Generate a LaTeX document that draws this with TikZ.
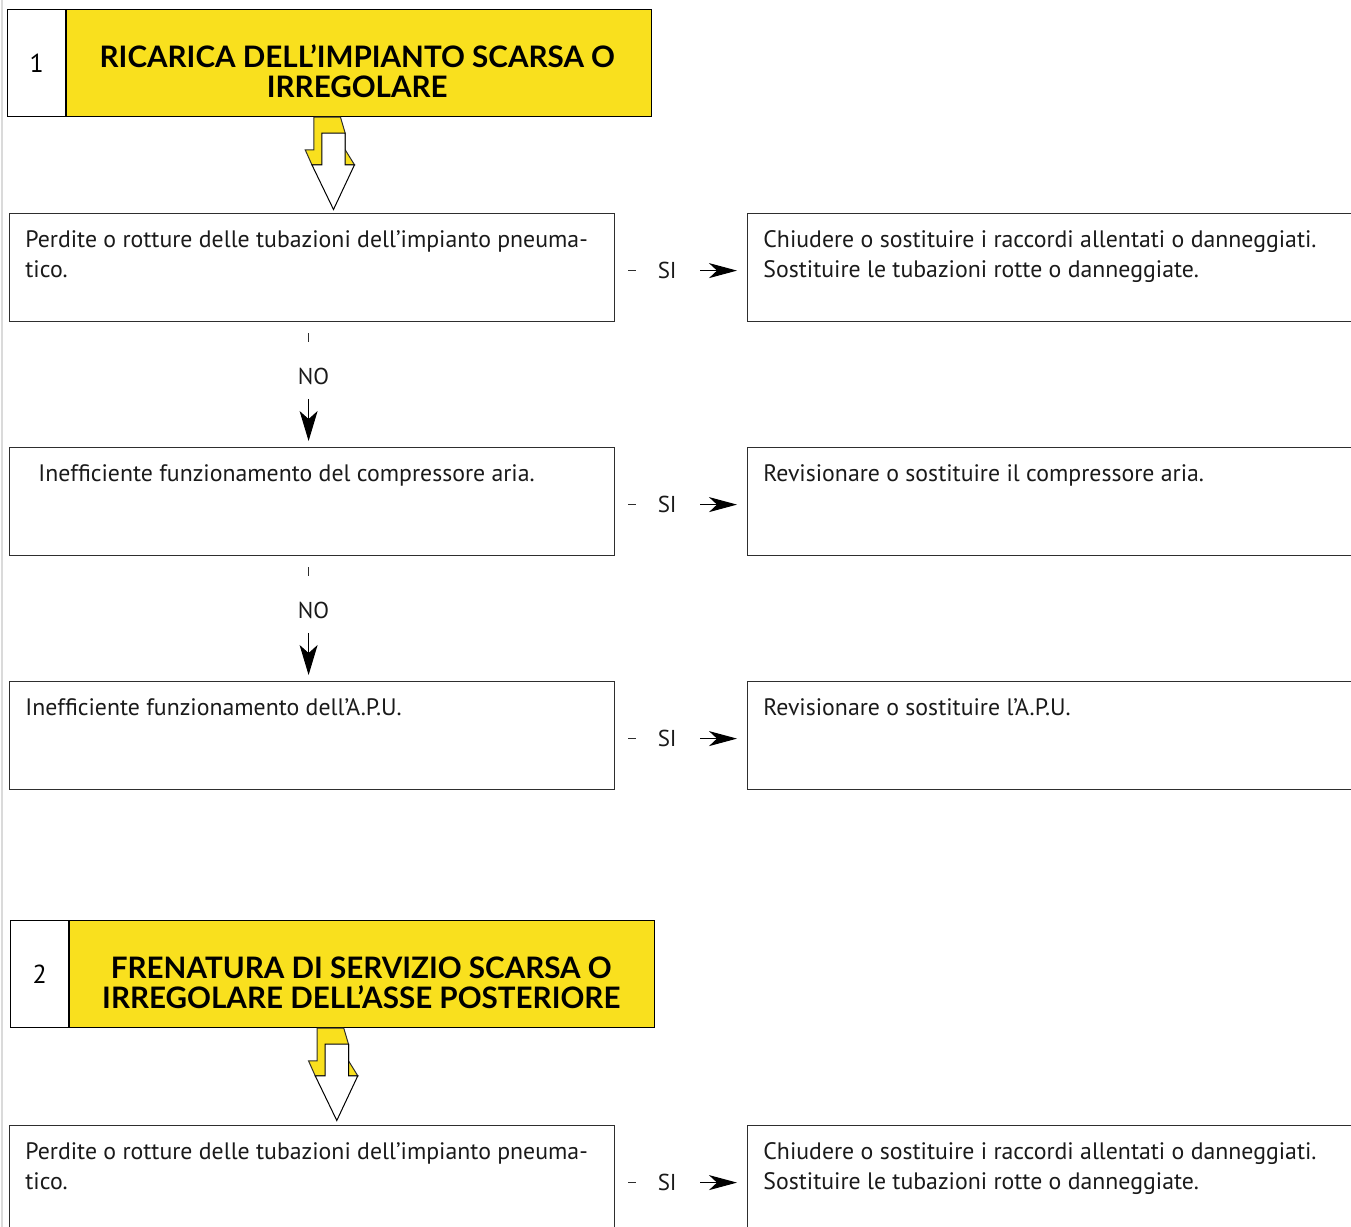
\documentclass[tikz,border=0pt]{standalone}
\usepackage{fontspec}
\setmainfont{PT Sans}
\newfontfamily\headfont{Lato}
\usetikzlibrary{positioning,arrows.meta}
\definecolor{signyellow}{HTML}{F9E01E}
\definecolor{framegrey}{HTML}{2E2E2E}
\definecolor{inkblack}{HTML}{1A1A1A}
\definecolor{pageedge}{HTML}{DADADA}
\tikzset{
  tag/.style      = {draw=black, fill=white, line width=0.6pt, minimum width=29pt,
                     minimum height=53.5pt, inner sep=0pt, font=\fontsize{13}{15}\selectfont},
  band/.style     = {draw=black, fill=signyellow, line width=0.6pt, minimum width=292.5pt,
                     minimum height=53.5pt, inner sep=0pt},
  headline/.style = {align=center, inner sep=0pt, text=black,
                     font=\headfont\fontsize{14.8}{15}\selectfont\bfseries},
  query/.style    = {draw=framegrey, line width=0.6pt, minimum width=302.5pt,
                     minimum height=54pt, inner sep=0pt},
  remedy/.style   = {query, minimum width=330pt},
  note/.style     = {anchor=north west, align=left, inner xsep=8pt, inner ysep=8.5pt,
                     text=inkblack, font=\fontsize{11.9}{15}\selectfont},
  answer/.style   = {inner sep=4pt, text=inkblack, font=\fontsize{11.5}{14}\selectfont},
  tick/.style     = {draw=framegrey, line width=0.5pt},
  flow/.style     = {-{Stealth[length=14pt, width=7.5pt, inset=4pt]}, draw=black, line width=0.5pt},
  drop/.style     = {-{Stealth[length=15pt, width=9pt, inset=4pt]}, draw=black, line width=0.5pt},
  droparrow/.pic  = {
    \filldraw[draw=framegrey, fill=signyellow, line width=0.5pt]
      (0,0) -- (26.6,0) -- (31.3,16) -- (31.3,32.6) -- (40.6,47.6) -- (-2,47.6)
      -- (-8.7,32.6) -- (0,32.6) -- cycle;
    \filldraw[draw=black, fill=white, line width=0.5pt]
      (8,16) -- (31.3,16) -- (31.3,47.6) -- (40.6,47.6) -- (19.6,92.3) -- (-2,47.6)
      -- (8,47.6) -- cycle;
  },
}

\begin{document}
\begin{tikzpicture}[x=0.5pt, y=-0.5pt, node distance=62.4pt and 65.9pt]
  \clip (0,0) rectangle (1351,1227);
  \draw[pageedge, line width=1pt] (1.5,0) -- (1.5,1227);

  \node[tag, anchor=north west] (num1) at (7,9) {1};
  \node[band, right=0pt of num1] (head1) {};
  \node[headline] (title1) at ([xshift=-1pt, yshift=-4pt]head1.center)
       {RICARICA DELL’IMPIANTO SCARSA O\\ IRREGOLARE};
  \pic at ([xshift=123.85pt]head1.south west) {droparrow};

  \node[query, anchor=north west] (q1) at (9,213) {};
  \node[note] (t1) at (q1.north west)
       {Perdite o rotture delle tubazioni dell’impianto pneuma-\\ tico.};
  \node[remedy, right=of q1] (r1) {};
  \node[note] (u1) at (r1.north west)
       {Chiudere o sostituire i raccordi allentati o danneggiati.\\
        Sostituire le tubazioni rotte o danneggiate.};

  \node[query, below=of q1] (q2) {};
  \node[note, xshift=6.5pt] (t2) at (q2.north west)
       {Inefficiente funzionamento del compressore aria.};
  \node[remedy, right=of q2] (r2) {};
  \node[note] (u2) at (r2.north west) {Revisionare o sostituire il compressore aria.};

  \node[query, below=of q2] (q3) {};
  \node[note] (t3) at (q3.north west) {Inefficiente funzionamento dell’A.P.U.};
  \node[remedy, right=of q3] (r3) {};
  \node[note] (u3) at (r3.north west) {Revisionare o sostituire l’A.P.U.};

  \node[tag, anchor=north west] (num2) at (10,920) {2};
  \node[band, right=0pt of num2] (head2) {};
  \node[headline] (title2) at ([xshift=-0.5pt, yshift=-4.5pt]head2.center)
       {FRENATURA DI SERVIZIO SCARSA O\\ IRREGOLARE DELL’ASSE POSTERIORE};
  \pic at ([xshift=124pt]head2.south west) {droparrow};

  \node[query, anchor=north west] (q4) at (9,1125) {};
  \node[note] (t4) at (q4.north west)
       {Perdite o rotture delle tubazioni dell’impianto pneuma-\\ tico.};
  \node[remedy, right=of q4] (r4) {};
  \node[note] (u4) at (r4.north west)
       {Chiudere o sostituire i raccordi allentati o danneggiati.\\
        Sostituire le tubazioni rotte o danneggiate.};

  \foreach \n in {1,2,3,4} {
    \node[answer] (si\n) at ([xshift=26pt, yshift=-1.5pt]q\n.east) {SI};
    \draw[tick, shorten <=6.5pt, shorten >=6.5pt] (q\n.east |- si\n) -- (si\n.west);
    \draw[flow, shorten <=7.5pt, shorten >=5pt] (si\n.east) -- (r\n.west |- si\n);
  }

  \foreach \a/\b in {1/2,2/3} {
    \coordinate (k\a) at ([xshift=-1.75pt]q\a.south);
    \draw[tick] ([yshift=-5.5pt]k\a) -- ++(0,9);
    \node[answer] (no\a) at ([xshift=2.5pt, yshift=-27pt]k\a) {NO};
    \draw[drop, shorten <=3pt, shorten >=3pt] (no\a.south -| k\a) -- (k\a |- q\b.north);
  }
\end{tikzpicture}
\end{document}
